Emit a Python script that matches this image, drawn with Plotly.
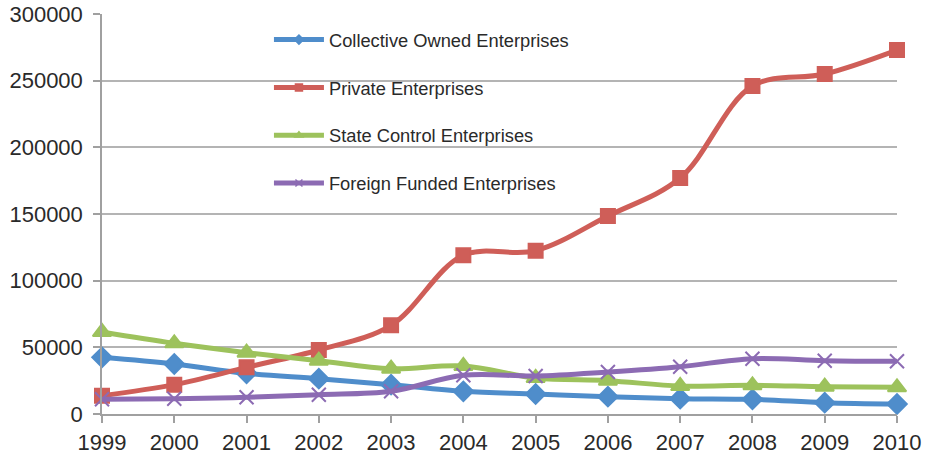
import plotly.graph_objects as go

years = [1999, 2000, 2001, 2002, 2003, 2004, 2005, 2006, 2007, 2008, 2009, 2010]

collective = [42500, 37500, 30500, 26500, 22000, 17000, 15000, 13000, 11500, 11000, 8500, 7500]
private = [13750, 22000, 35000, 48000, 66500, 119000, 122500, 148500, 177000, 246000, 255000, 273000]
state = [61500, 53000, 46000, 40000, 34000, 36000, 27000, 25000, 21000, 21500, 20500, 20000]
foreign = [11000, 11500, 12500, 14500, 17000, 29000, 28500, 31500, 35500, 41500, 40000, 39500]

series = [
    ("Collective Owned Enterprises", collective, "#4F8DCB", "diamond", 15),
    ("Private Enterprises", private, "#CF5E58", "square", 14),
    ("State Control Enterprises", state, "#9DC25C", "triangle-up", 16),
    ("Foreign Funded Enterprises", foreign, "#8C6BB3", "x-thin-open", 14),
]

fig = go.Figure()
for i, (name, vals, color, symbol, size) in enumerate(series):
    # data line with full-size markers
    fig.add_trace(go.Scatter(
        x=years, y=vals, name=name, mode="lines+markers",
        line=dict(color=color, width=5, shape="spline", smoothing=1.0),
        marker=dict(symbol=symbol, size=size, color=color,
                    line=dict(color=color, width=2)),
        showlegend=False,
        cliponaxis=False,
    ))
    # legend entry with a small marker on the line sample
    fig.add_trace(go.Scatter(
        x=[None], y=[None], name=name, mode="lines+markers",
        line=dict(color=color, width=5),
        marker=dict(symbol=symbol, size=7, color=color,
                    line=dict(color=color, width=1.5)),
        legendgroup=f"g{i}",
        showlegend=True,
    ))

axis_font = dict(family="Liberation Sans, Arial, sans-serif", size=22, color="#2A2A2A")

fig.update_layout(
    width=926, height=458,
    margin=dict(l=102, r=29, t=14, b=44),
    paper_bgcolor="white", plot_bgcolor="white",
    showlegend=True,
    legend=dict(
        x=0.21, y=0.982, xanchor="left", yanchor="top",
        bgcolor="rgba(0,0,0,0)",
        font=dict(family="Liberation Sans, Arial, sans-serif", size=18.3, color="#2A2A2A"),
        tracegroupgap=21, itemwidth=50,
    ),
    xaxis=dict(
        range=[1999, 2010], tickvals=years, ticktext=[str(y) for y in years],
        showgrid=False, showline=True, linecolor="#A0A0A0", linewidth=1.5,
        ticks="outside", ticklen=7, tickcolor="#A0A0A0", tickwidth=1.5,
        tickfont=axis_font, zeroline=False, automargin=False,
        ticklabelstandoff=1,
    ),
    yaxis=dict(
        range=[0, 300000], tickvals=[0, 50000, 100000, 150000, 200000, 250000, 300000],
        ticktext=["0", "50000", "100000", "150000", "200000", "250000", "300000"],
        showgrid=True, gridcolor="#B4B4B4", gridwidth=1.5,
        showline=True, linecolor="#A0A0A0", linewidth=1.5,
        ticks="outside", ticklen=7, tickcolor="#A0A0A0", tickwidth=1.5,
        tickfont=axis_font, zeroline=False, automargin=False,
        ticklabelstandoff=6,
    ),
)

fig.write_html("out.html")
